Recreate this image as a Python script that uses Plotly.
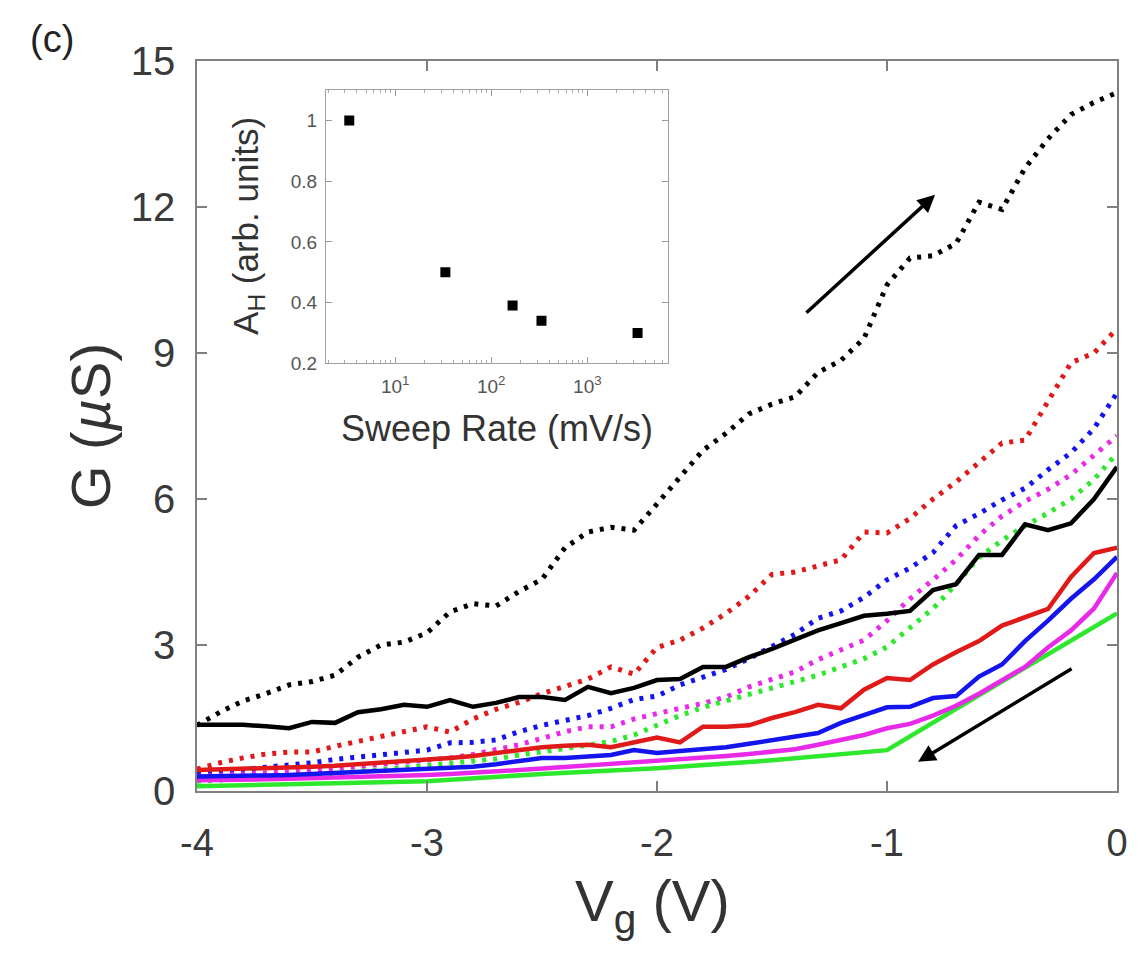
import plotly.graph_objects as go

# ---------------- data ----------------
vg = [-4.0, -3.9, -3.8, -3.7, -3.6, -3.5, -3.4, -3.3, -3.2, -3.1,
      -3.0, -2.9, -2.8, -2.7, -2.6, -2.5, -2.4, -2.3, -2.2, -2.1,
      -2.0, -1.9, -1.8, -1.7, -1.6, -1.5, -1.4, -1.3, -1.2, -1.1,
      -1.0, -0.9, -0.8, -0.7, -0.6, -0.5, -0.4, -0.3, -0.2, -0.1, 0.0]

# dotted curves (up sweep)
up_black = [1.35, 1.62, 1.85, 2.00, 2.18, 2.25, 2.38, 2.75, 3.00, 3.06,
            3.25, 3.68, 3.85, 3.80, 4.10, 4.35, 5.00, 5.32, 5.42, 5.36,
            5.90, 6.45, 7.00, 7.35, 7.75, 7.95, 8.10, 8.60, 8.85, 9.30,
            10.40, 10.95, 11.00, 11.25, 12.10, 11.95, 12.80, 13.40, 13.90, 14.15, 14.35]
up_red = [0.45, 0.58, 0.68, 0.76, 0.80, 0.80, 0.92, 1.02, 1.13, 1.21,
          1.32, 1.21, 1.48, 1.68, 1.82, 2.00, 2.15, 2.30, 2.55, 2.40,
          2.95, 3.10, 3.35, 3.65, 4.00, 4.45, 4.50, 4.62, 4.75, 5.32,
          5.30, 5.60, 6.00, 6.35, 6.75, 7.15, 7.21, 8.00, 8.80, 9.00, 9.50]
up_blue = [0.37, 0.40, 0.44, 0.49, 0.53, 0.58, 0.65, 0.70, 0.74, 0.78,
           0.84, 0.99, 1.00, 1.05, 1.22, 1.35, 1.45, 1.55, 1.70, 1.88,
           1.95, 2.18, 2.34, 2.50, 2.72, 2.98, 3.22, 3.55, 3.70, 3.98,
           4.34, 4.58, 4.90, 5.45, 5.70, 5.98, 6.22, 6.60, 6.95, 7.45, 8.18]
up_magenta = [0.30, 0.32, 0.35, 0.38, 0.40, 0.42, 0.46, 0.50, 0.55, 0.58,
              0.62, 0.68, 0.75, 0.85, 0.95, 1.08, 1.22, 1.32, 1.32, 1.48,
              1.60, 1.70, 1.80, 1.93, 2.14, 2.30, 2.45, 2.70, 2.90, 3.10,
              3.50, 3.95, 4.34, 4.75, 5.25, 5.65, 5.95, 6.20, 6.50, 6.90, 7.30]
up_green = [0.20, 0.22, 0.25, 0.27, 0.30, 0.33, 0.36, 0.40, 0.44, 0.48,
            0.52, 0.56, 0.60, 0.66, 0.74, 0.80, 0.87, 0.94, 1.02, 1.15,
            1.35, 1.55, 1.72, 1.85, 1.98, 2.12, 2.25, 2.38, 2.55, 2.72,
            2.96, 3.35, 3.75, 4.25, 4.80, 5.15, 5.45, 5.71, 6.00, 6.40, 6.94]

# solid curves (down sweep)
down_black = [1.36, 1.36, 1.36, 1.33, 1.29, 1.42, 1.40, 1.62, 1.68, 1.77,
              1.73, 1.87, 1.73, 1.81, 1.93, 1.93, 1.87, 2.14, 2.01, 2.12,
              2.28, 2.30, 2.55, 2.55, 2.75, 2.92, 3.10, 3.30, 3.45, 3.60,
              3.64, 3.70, 4.13, 4.25, 4.85, 4.85, 5.48, 5.36, 5.50, 6.00, 6.66]
down_red = [0.43, 0.44, 0.45, 0.46, 0.47, 0.50, 0.52, 0.55, 0.58, 0.60,
            0.64, 0.68, 0.72, 0.78, 0.85, 0.90, 0.93, 0.95, 0.90, 1.00,
            1.10, 1.00, 1.32, 1.32, 1.35, 1.50, 1.62, 1.77, 1.70, 2.08,
            2.32, 2.28, 2.60, 2.85, 3.08, 3.40, 3.58, 3.74, 4.40, 4.89, 5.00]
down_blue = [0.30, 0.30, 0.31, 0.32, 0.33, 0.35, 0.36, 0.38, 0.40, 0.42,
             0.45, 0.48, 0.50, 0.55, 0.62, 0.68, 0.68, 0.70, 0.74, 0.84,
             0.78, 0.82, 0.85, 0.90, 0.97, 1.04, 1.12, 1.19, 1.40, 1.55,
             1.72, 1.73, 1.91, 1.95, 2.35, 2.60, 3.08, 3.50, 3.95, 4.35, 4.81]
down_magenta = [0.22, 0.22, 0.23, 0.24, 0.25, 0.26, 0.27, 0.28, 0.30, 0.31,
                0.33, 0.35, 0.37, 0.40, 0.43, 0.46, 0.49, 0.52, 0.55, 0.58,
                0.61, 0.64, 0.68, 0.72, 0.76, 0.80, 0.86, 0.95, 1.05, 1.15,
                1.29, 1.38, 1.55, 1.75, 2.00, 2.28, 2.55, 2.95, 3.30, 3.75, 4.48]
vg_coarse = [-4.0, -3.5, -3.0, -2.5, -2.0, -1.5, -1.0, -0.5, 0.0]
down_green = [0.10, 0.14, 0.20, 0.35, 0.47, 0.63, 0.84, 2.25, 3.65]

# inset
sweep_rate = [3.33, 33.3, 166.7, 333.3, 3333.0]
a_h = [1.00, 0.50, 0.39, 0.34, 0.30]

x_ticks = [-4, -3, -2, -1, 0]
x_tick_labels = ["-4", "-3", "-2", "-1", "0"]
y_ticks = [0, 3, 6, 9, 12, 15]
y_tick_labels = ["0", "3", "6", "9", "12", "15"]
inset_y_ticks = [0.2, 0.4, 0.6, 0.8, 1.0]
inset_y_labels = ["0.2", "0.4", "0.6", "0.8", "1"]
inset_x_ticks = [10, 100, 1000]
inset_x_labels = ["10<sup>1</sup>", "10<sup>2</sup>", "10<sup>3</sup>"]

colors = {"black": "#000000", "red": "#e01919", "blue": "#1414ee",
          "magenta": "#e82ae8", "green": "#2ee82e"}

fig = go.Figure()

dotted = [("black", up_black), ("red", up_red), ("blue", up_blue),
          ("magenta", up_magenta), ("green", up_green)]
solid = [("black", down_black), ("red", down_red), ("blue", down_blue),
         ("magenta", down_magenta)]

for name, vals in dotted:
    fig.add_trace(go.Scatter(x=vg, y=vals, mode="lines",
                             line=dict(color=colors[name], width=5, dash="4px,7px"),
                             hoverinfo="skip"))
fig.add_trace(go.Scatter(x=vg_coarse, y=down_green, mode="lines",
                         line=dict(color=colors["green"], width=4.5), hoverinfo="skip"))
for name, vals in solid[::-1]:
    fig.add_trace(go.Scatter(x=vg, y=vals, mode="lines",
                             line=dict(color=colors[name], width=4.5), hoverinfo="skip"))

fig.add_trace(go.Scatter(x=sweep_rate, y=a_h, mode="markers", xaxis="x2", yaxis="y2",
                         marker=dict(symbol="square", size=10, color="black"),
                         hoverinfo="skip"))

axis_col = "#808080"
tick_font = dict(family="Liberation Sans, Arial, sans-serif", size=38, color="#3a3a3a")

fig.update_layout(
    width=1148, height=961,
    margin=dict(l=197, r=31, t=61, b=170),
    plot_bgcolor="white", paper_bgcolor="white",
    showlegend=False,
    font=dict(family="Liberation Sans, Arial, sans-serif", color="#333333"),
    xaxis=dict(range=[-4, 0], tickmode="array", tickvals=x_ticks, ticktext=x_tick_labels,
               ticks="inside", ticklen=10, tickwidth=1.5, tickcolor=axis_col,
               showline=True, linecolor=axis_col, linewidth=1.5, mirror="ticks",
               showgrid=False, zeroline=False, tickfont=tick_font, ticklabelstandoff=18),
    yaxis=dict(range=[0, 15], tickmode="array", tickvals=y_ticks, ticktext=y_tick_labels,
               ticks="inside", ticklen=10, tickwidth=1.5, tickcolor=axis_col,
               showline=True, linecolor=axis_col, linewidth=1.5, mirror="ticks",
               showgrid=False, zeroline=False,
               tickfont=dict(family="Liberation Sans, Arial, sans-serif", size=40, color="#3a3a3a"),
               ticklabelstandoff=12),
    xaxis2=dict(type="log", range=[0.28, 3.84], domain=[0.1402, 0.512], anchor="y2",
                tickmode="array", tickvals=inset_x_ticks, ticktext=inset_x_labels,
                ticks="inside", ticklen=6, tickwidth=1, tickcolor="#999999",
                showline=True, linecolor="#a0a0a0", linewidth=1.2, mirror="ticks",
                showgrid=False, zeroline=False,
                tickfont=dict(family="Liberation Sans, Arial, sans-serif", size=19, color="#555555"),
                minor=dict(ticks="inside", ticklen=3, tickcolor="#aaaaaa",
                           tickvals=[m * d for d in (1, 10, 100, 1000) for m in range(2, 10)]),
                ticklabelstandoff=6),
    yaxis2=dict(range=[0.2, 1.1], domain=[0.586, 0.960], anchor="x2",
                tickmode="array", tickvals=inset_y_ticks, ticktext=inset_y_labels,
                ticks="inside", ticklen=6, tickwidth=1, tickcolor="#999999",
                showline=True, linecolor="#a0a0a0", linewidth=1.2, mirror="ticks",
                showgrid=False, zeroline=False,
                tickfont=dict(family="Liberation Sans, Arial, sans-serif", size=19, color="#555555"),
                ticklabelstandoff=4),
)

annotations = [
    # arrows
    dict(x=-0.791, y=12.25, ax=-1.357, ay=9.8, xref="x", yref="y", axref="x", ayref="y",
         showarrow=True, arrowhead=2, arrowsize=1, arrowwidth=3.5, arrowcolor="black", text=""),
    dict(x=-0.865, y=0.6, ax=-0.191, ay=2.53, xref="x", yref="y", axref="x", ayref="y",
         showarrow=True, arrowhead=2, arrowsize=1, arrowwidth=3.5, arrowcolor="black", text=""),
    # axis titles
    dict(text="G (<i>µ</i>S)", x=-0.1163, y=0.5, xref="paper", yref="paper",
         xanchor="center", yanchor="middle", textangle=-90, showarrow=False,
         font=dict(size=56, color="#333333")),
    dict(text="V<sub>g</sub> (V)", x=0.4946, y=-0.156, xref="paper", yref="paper",
         xanchor="center", yanchor="middle", showarrow=False,
         font=dict(size=58, color="#333333")),
    dict(text="Sweep Rate (mV/s)", x=0.326, y=0.497, xref="paper", yref="paper",
         xanchor="center", yanchor="middle", showarrow=False,
         font=dict(size=36, color="#333333")),
    dict(text="A<sub>H</sub> (arb. units)", x=0.0554, y=0.774, xref="paper", yref="paper",
         xanchor="center", yanchor="middle", textangle=-90, showarrow=False,
         font=dict(size=35, color="#333333")),
    dict(text="(c)", x=-0.1576, y=1.030, xref="paper", yref="paper",
         xanchor="center", yanchor="middle", showarrow=False,
         font=dict(size=38, color="#222222")),
]
fig.update_layout(annotations=annotations)

fig.write_html("out.html")
